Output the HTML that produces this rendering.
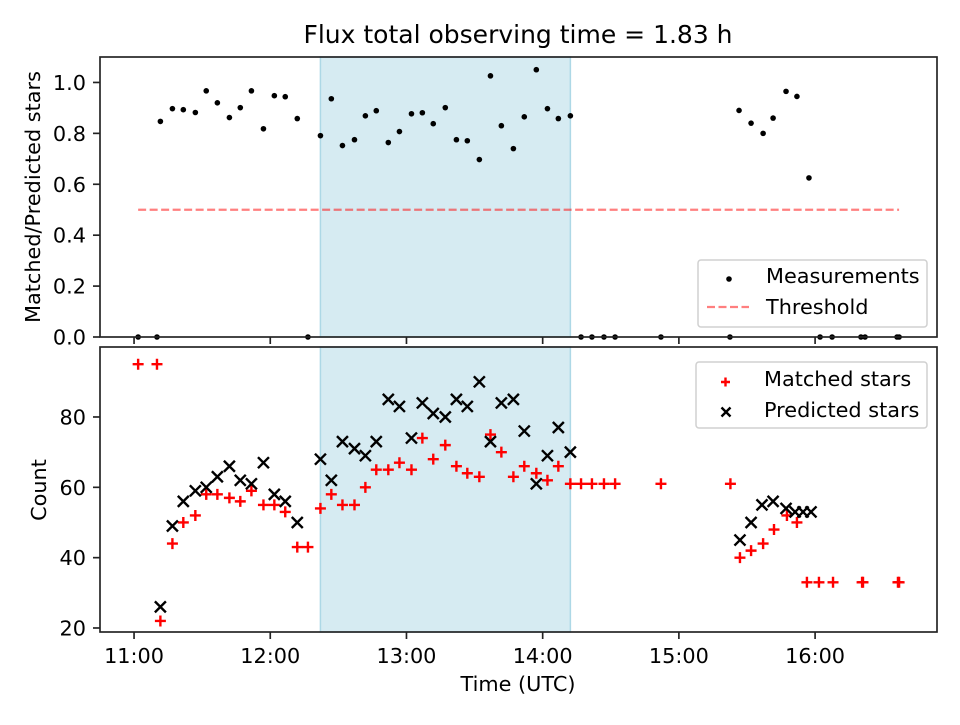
<!DOCTYPE html>
<html><head><meta charset="utf-8"><style>
body{margin:0;background:#fff;}
svg{font-family:"DejaVu Sans","Liberation Sans",sans-serif;}
</style></head><body>
<svg id="fig" width="960" height="720" viewBox="0 0 960 720" xmlns="http://www.w3.org/2000/svg"></svg>
<script>
// ---- data (times in minutes since 11:00 UTC) ----
const ratioTimes = [11.6,16.9,21.7,27.0,31.8,36.7,42.0,46.8,51.7,57.0,61.8,66.6,71.9,82.1,86.9,91.8,97.1,101.9,106.7,112.0,116.9,122.2,127.0,131.8,137.1,142.0,146.8,152.1,157.0,161.8,167.1,171.9,177.2,182.1,186.9,192.2,266.5,271.8,277.1,281.5,287.2,292.0,297.3,
 1.8,10.1,76.6,196.9,201.7,207.0,211.9,232.1,262.5,302.2,307.5,320.2,322.0,336.1,337.0];
const ratioValues = [0.847,0.897,0.893,0.882,0.967,0.920,0.862,0.901,0.967,0.818,0.948,0.944,0.858,0.791,0.936,0.752,0.775,0.869,0.889,0.764,0.807,0.877,0.881,0.838,0.901,0.775,0.771,0.697,1.026,0.830,0.740,0.865,1.050,0.897,0.858,0.869,0.89,0.84,0.80,0.86,0.965,0.945,0.625,
 0,0,0,0,0,0,0,0,0,0,0,0,0,0,0];
const threshold = 0.5;
const thresholdSpan = [1.8, 337.0];
const matchedTimes = [1.8,10.1,11.6,16.9,21.7,27.0,31.8,36.7,42.0,46.8,51.7,57.0,61.8,66.6,71.9,76.6,82.1,86.9,91.8,97.1,101.9,106.7,112.0,116.9,122.2,127.0,131.8,137.1,142.0,146.8,152.1,157.0,161.8,167.1,171.9,177.2,182.1,186.9,192.2,196.9,201.7,207.0,211.9,232.1,262.7,266.9,271.8,277.1,281.9,287.6,292.0,296.4,301.7,307.9,320.7,321.1,336.5,337.0];
const matchedValues = [95,95,22,44,50,52,58,58,57,56,59,55,55,53,43,43,54,58,55,55,60,65,65,67,65,74,68,72,66,64,63,75,70,63,66,64,62,66,61,61,61,61,61,61,61,40,42,44,48,52,50,33,33,33,33,33,33,33];
const predictedTimes = [11.6,16.9,21.7,27.0,31.8,36.7,42.0,46.8,51.7,57.0,61.8,66.6,71.9,82.1,86.9,91.8,97.1,101.9,106.7,112.0,116.9,122.2,127.0,131.8,137.1,142.0,146.8,152.1,157.0,161.8,167.1,171.9,177.2,182.1,186.9,192.2,266.9,271.8,276.6,281.5,287.2,291.2,294.7,298.2];
const predictedValues = [26,49,56,59,60,63,66,62,61,67,58,56,50,68,62,73,71,69,73,85,83,74,84,81,80,85,83,90,73,84,85,76,61,69,77,70,45,50,55,56,54,53,53,53];
const xTickLabels = ["11:00","12:00","13:00","14:00","15:00","16:00"];
const xTickValues = [0,60,120,180,240,300];
const topTickValues = [0,0.2,0.4,0.6,0.8,1.0];
const botTickValues = [20,40,60,80];
const shadeSpan = [82.1,192.2];

const NS="http://www.w3.org/2000/svg";
const svg=document.getElementById('fig');
function mk(tag,attrs,parent){const e=document.createElementNS(NS,tag);for(const k in attrs)e.setAttribute(k,attrs[k]);(parent||svg).appendChild(e);return e;}
const L=100,R=937,xmin=-15,xmax=353.7;
const xs=t=>L+(t-xmin)/(xmax-xmin)*(R-L);
const T1=57,B1=337,ys1=v=>B1-(v-0)/(1.1)*(B1-T1);
const T2=347,B2=632,ymin2=18.86,ymax2=99.9,ys2=v=>B2-(v-ymin2)/(ymax2-ymin2)*(B2-T2);
const FS='20.8', SW=1.67, TL=7;

let t=mk('text',{x:518,y:43,'font-size':'25','text-anchor':'middle',fill:'#000'});t.textContent='Flux total observing time = 1.83 h';



function shade(T,B,name){const r=mk('rect',{x:xs(shadeSpan[0]),y:T,width:xs(shadeSpan[1])-xs(shadeSpan[0]),height:B-T,fill:'#add8e6','fill-opacity':0.5,stroke:'#add8e6','stroke-width':1.5});

}
shade(T1,B1,'observing-window-top');
shade(T2,B2,'observing-window-bottom');

const th=mk('line',{x1:xs(thresholdSpan[0]),x2:xs(thresholdSpan[1]),y1:ys1(threshold),y2:ys1(threshold),stroke:'#ff0000','stroke-opacity':0.5,'stroke-width':2.2,'stroke-dasharray':'8,3.5'});



ratioTimes.forEach((tm,i)=>{const c=mk('circle',{cx:xs(tm),cy:ys1(ratioValues[i]),r:2.8,fill:'#000'});

});

matchedTimes.forEach((tm,i)=>{const x=xs(tm),y=ys2(matchedValues[i]);const g=mk('path',{d:`M${x-5.5},${y}H${x+5.5}M${x},${y-5.5}V${y+5.5}`,stroke:'#ff0000','stroke-width':2.4,fill:'none'});

});
predictedTimes.forEach((tm,i)=>{const x=xs(tm),y=ys2(predictedValues[i]);const g=mk('path',{d:`M${x-5.5},${y-5.5}L${x+5.5},${y+5.5}M${x-5.5},${y+5.5}L${x+5.5},${y-5.5}`,stroke:'#000','stroke-width':2.4,fill:'none'});

});

function frame(T,B,name){const r=mk('rect',{x:L,y:T,width:R-L,height:B-T,fill:'none',stroke:'#222','stroke-width':SW});

}
frame(T1,B1,'top-axes-frame');
frame(T2,B2,'bottom-axes-frame');

xTickValues.forEach((v,i)=>{const x=xs(v);
mk('line',{x1:x,x2:x,y1:B1,y2:B1+TL,stroke:'#222','stroke-width':SW});
mk('line',{x1:x,x2:x,y1:B2,y2:B2+TL,stroke:'#222','stroke-width':SW});
const tx=mk('text',{x:x,y:663,'font-size':FS,'text-anchor':'middle'});tx.textContent=xTickLabels[i];

});
topTickValues.forEach(v=>{const y=ys1(v);mk('line',{x1:L-TL,x2:L,y1:y,y2:y,stroke:'#222','stroke-width':SW});
const tx=mk('text',{x:L-14,y:y+7.5,'font-size':FS,'text-anchor':'end'});tx.textContent=v.toFixed(1);

});
botTickValues.forEach(v=>{const y=ys2(v);mk('line',{x1:L-TL,x2:L,y1:y,y2:y,stroke:'#222','stroke-width':SW});
const tx=mk('text',{x:L-14,y:y+7.5,'font-size':FS,'text-anchor':'end'});tx.textContent=String(v);

});

let a=mk('text',{x:0,y:0,'font-size':FS,'text-anchor':'middle',transform:'translate(40,197) rotate(-90)'});a.textContent='Matched/Predicted stars';


a=mk('text',{x:0,y:0,'font-size':FS,'text-anchor':'middle',transform:'translate(46,490) rotate(-90)'});a.textContent='Count';


a=mk('text',{x:518,y:691,'font-size':FS,'text-anchor':'middle'});a.textContent='Time (UTC)';



function legendBox(x,y,w,h,name){const r=mk('rect',{x:x,y:y,width:w,height:h,rx:3,fill:'#fff','fill-opacity':0.8,stroke:'#d0d0d0','stroke-width':1.5});

}
legendBox(698,260,229,67,'top-legend');
let g=mk('circle',{cx:729,cy:279,r:2.8,fill:'#000'});


let lt=mk('text',{x:766,y:283,'font-size':FS});lt.textContent='Measurements';


g=mk('line',{x1:707,x2:749,y1:307,y2:307,stroke:'#ff0000','stroke-opacity':0.5,'stroke-width':2.2,'stroke-dasharray':'8,3.5'});


lt=mk('text',{x:766,y:314,'font-size':FS});lt.textContent='Threshold';



legendBox(696,362,231,66,'bottom-legend');
g=mk('path',{d:'M721,382H730M725.5,377.5V386.5',stroke:'#ff0000','stroke-width':2.4,fill:'none'});


lt=mk('text',{x:764,y:386,'font-size':FS});lt.textContent='Matched stars';


g=mk('path',{d:'M721.5,407.5L730.5,416.5M721.5,416.5L730.5,407.5',stroke:'#000','stroke-width':2.4,fill:'none'});


lt=mk('text',{x:764,y:417,'font-size':FS});lt.textContent='Predicted stars';


</script>
</body></html>
